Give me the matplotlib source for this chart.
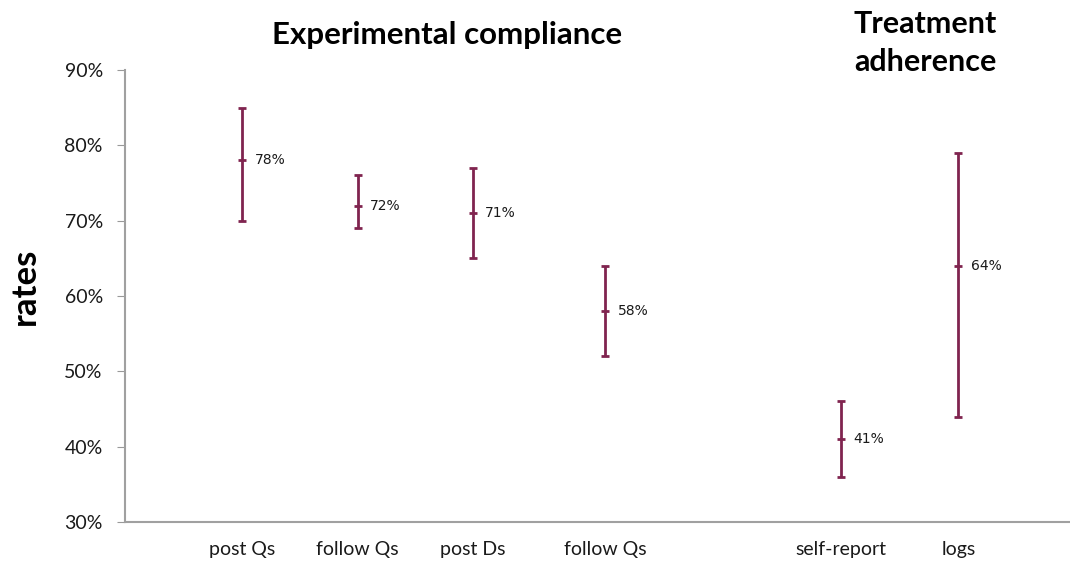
import matplotlib.pyplot as plt
import numpy as np

# measures and rates (%)
labels = ['post Qs', 'follow Qs', 'post Ds', 'follow Qs', 'self-report', 'logs']
means = [78, 72, 71, 58, 41, 64]
highs = [85, 76, 77, 64, 46, 79]
lows = [70, 69, 65, 52, 36, 44]

# category spots along x (gap before the adherence group)
xpos = np.array([0, 1, 2, 3.15, 5.2, 6.22])

col = '#80244F'
fig = plt.figure(figsize=(10.7, 5.65), dpi=100)
ax = fig.add_axes([125 / 1070, 43 / 565, 1 - 125 / 1070, 452 / 565])

means = np.array(means)
yerr = [means - np.array(lows), np.array(highs) - means]
ax.errorbar(xpos, means, yerr=yerr, fmt='_', color=col, ecolor=col,
            elinewidth=2, capsize=3, capthick=2, markersize=6, mew=2)

for x, m in zip(xpos, means):
    ax.annotate('%d%%' % m, (x, m), xytext=(9, 0), textcoords='offset points',
                va='center', ha='left', fontsize=10, color='#1a1a1a',
                family='DejaVu Sans')

ax.set_xlim(-1.02, 7.19)
ax.set_ylim(30, 90)
ax.set_yticks(range(30, 91, 10))
ax.set_yticklabels(['%d%%' % v for v in range(30, 91, 10)],
                   fontsize=14, family='Lato', color='#1a1a1a')
ax.set_xticks(xpos)
ax.set_xticklabels(labels, fontsize=14, family='Lato', color='#1a1a1a')
ax.tick_params(axis='x', length=0, pad=14)
ax.tick_params(axis='y', length=6, color='#999999', pad=10)

for s in ['top', 'right']:
    ax.spines[s].set_visible(False)
for s in ['left', 'bottom']:
    ax.spines[s].set_color('#A0A0A0')
    ax.spines[s].set_linewidth(1.5)

fig.text(0.008, 0.493, 'rates', rotation=90, fontsize=25, fontweight='bold',
         family='Lato', va='center', ha='left')
fig.text(447 / 1070, 1 - 35 / 565, 'Experimental compliance', fontsize=22.5,
         fontweight='bold', family='Lato', ha='center', va='center')
fig.text(925 / 1070, 1 - 43 / 565, 'Treatment\nadherence', fontsize=22,
         fontweight='bold', family='Lato', ha='center', va='center',
         linespacing=1.45)

plt.savefig('out.png', dpi=100)
